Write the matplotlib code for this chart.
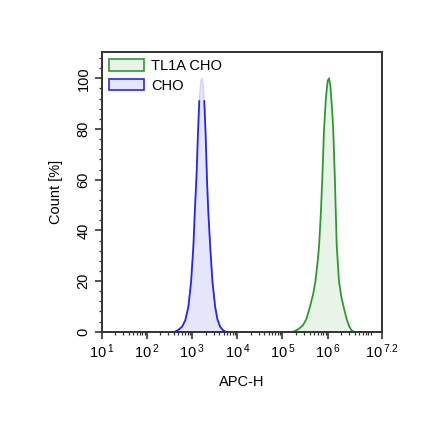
import numpy as np
import matplotlib
matplotlib.use("Agg")
import matplotlib.pyplot as plt
from matplotlib.patches import Patch
from matplotlib.ticker import FixedLocator, MultipleLocator, NullFormatter

plt.rcParams['font.family'] = ['Liberation Sans', 'DejaVu Sans']
plt.rcParams['mathtext.default'] = 'regular'

# data (log10 of APC-H, Count %)
cho_x = [2.62, 2.70, 2.78, 2.85, 2.92, 2.98, 3.03, 3.06, 3.10, 3.13, 3.16,
         3.19, 3.215, 3.24, 3.27, 3.30, 3.33, 3.36, 3.40, 3.45, 3.51, 3.56,
         3.62, 3.69, 3.75]
cho_y = [0.0, 0.8, 2.0, 4.5, 10.0, 20.0, 34.0, 47.0, 62.0, 78.0, 91.0,
         98.0, 100.0, 98.0, 91.0, 78.0, 60.0, 47.0, 34.0, 20.0, 10.0, 5.0,
         2.0, 0.5, 0.0]
tl1a_x = [5.24, 5.35, 5.45, 5.53, 5.61, 5.68, 5.73, 5.78, 5.81, 5.85, 5.88,
          5.92, 5.96, 6.00, 6.03, 6.06, 6.10, 6.12, 6.16, 6.18, 6.20, 6.25,
          6.30, 6.35, 6.42, 6.48, 6.53, 6.58]
tl1a_y = [0.0, 1.0, 2.5, 5.0, 10.0, 15.0, 20.0, 28.0, 34.0, 47.0, 60.0,
          80.0, 92.0, 99.0, 100.0, 97.0, 87.0, 81.0, 60.0, 47.0, 34.0, 20.0,
          14.0, 10.0, 5.0, 2.0, 0.5, 0.0]
series = ['TL1A CHO', 'CHO']
xtick_pos = [1, 2, 3, 4, 5, 6, 7.2]
xtick_exp = ['1', '2', '3', '4', '5', '6', '7.2']
ytick_vals = [0, 20, 40, 60, 80, 100]

blue = '#2626f2'
blue_fill = '#e6e6fa'
green = '#2e9a2e'
green_fill = '#e9f4e9'

fig = plt.figure(figsize=(4.4, 4.4), dpi=100)
ax = fig.add_axes([0.231, 0.246, 0.637, 0.6365])

cx = np.power(10.0, cho_x)
cy = np.array(cho_y)
tx = np.power(10.0, tl1a_x)
ty = np.array(tl1a_y)

ax.fill_between(tx, 0, ty, color=green_fill, lw=0)
ax.plot(tx, ty, color=green, lw=1.3)
ax.fill_between(cx, 0, cy, color=blue_fill, lw=0)
ax.plot(cx, cy, color='#d0d0fa', lw=1.0)
cy_line = np.where(cy > 92, np.nan, cy)
ax.plot(cx, cy_line, color=blue, lw=1.3)

ax.set_xscale('log')
ax.set_xlim(10 ** 1, 10 ** 7.2)
ax.set_ylim(0, 110.5)

ax.xaxis.set_major_locator(FixedLocator([10 ** p for p in xtick_pos]))
ax.set_xticklabels(['10$^{\\,%s}$' % e for e in xtick_exp], fontsize=10.5)
minors = []
for d in range(1, 8):
    for m in range(2, 10):
        v = m * 10 ** d
        if v < 10 ** 7.2:
            minors.append(v)
ax.xaxis.set_minor_locator(FixedLocator(minors))
ax.xaxis.set_minor_formatter(NullFormatter())

ax.set_yticks(ytick_vals)
ax.set_yticklabels([str(v) for v in ytick_vals], fontsize=10.5, rotation=90, va='center')
ax.yaxis.set_minor_locator(MultipleLocator(4))

ax.tick_params(which='major', direction='out', length=5, width=1.2, color='#333333', pad=3)
ax.tick_params(which='minor', direction='out', length=2.5, width=0.9, color='#333333')
for s in ax.spines.values():
    s.set_color('#333333')
    s.set_linewidth(1.4)

ax.set_xlabel('APC-H', fontsize=10.5, labelpad=10)
ax.set_ylabel('Count [%]', fontsize=10.5, labelpad=10)

handles = [Patch(facecolor=green_fill, edgecolor=green, lw=1.2),
           Patch(facecolor=blue_fill, edgecolor=blue, lw=1.2)]
ax.legend(handles, series, loc='upper left', frameon=False, fontsize=10.5,
          handlelength=2.4, handleheight=0.8, handletextpad=0.5,
          borderaxespad=0.1, labelspacing=0.4)

fig.savefig('out.png', dpi=100)
